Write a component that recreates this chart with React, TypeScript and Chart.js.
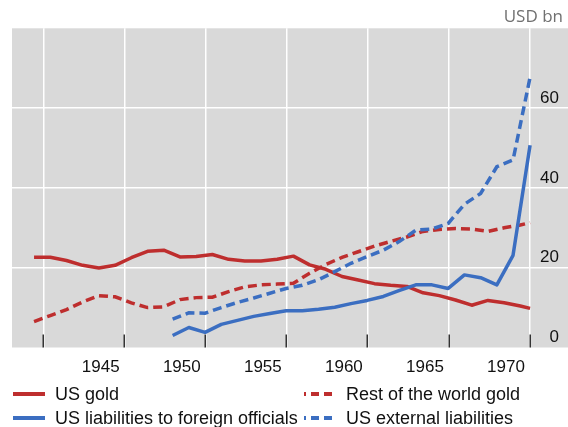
import React, { useEffect, useRef } from 'react';
import { Chart, registerables } from 'chart.js';

Chart.register(...registerables);

// Gold stocks: annual points, last point = mid-1971
const goldYears = [
  1941, 1942, 1943, 1944, 1945, 1946, 1947, 1948, 1949, 1950,
  1951, 1952, 1953, 1954, 1955, 1956, 1957, 1958, 1959, 1960,
  1961, 1962, 1963, 1964, 1965, 1966, 1967, 1968, 1969, 1970,
  1971, 1971.6,
];
const usGold = [
  22.6, 22.6, 21.8, 20.6, 19.9, 20.6, 22.5, 24.1, 24.4, 22.7,
  22.8, 23.3, 22.1, 21.7, 21.7, 22.1, 22.9, 20.7, 19.6, 17.8,
  16.9, 16.0, 15.6, 15.3, 13.7, 13.0, 11.9, 10.6, 11.8, 11.2,
  10.4, 9.8,
];
const restOfWorldGold = [
  6.5, 8.0, 9.5, 11.4, 13.0, 12.7, 11.2, 10.0, 10.2, 12.0,
  12.5, 12.6, 14.0, 15.2, 15.7, 15.9, 16.1, 18.6, 20.8, 22.6,
  24.0, 25.4, 26.6, 27.7, 29.1, 29.6, 29.8, 29.7, 29.1, 30.0,
  30.7, 31.3,
];

// Liabilities: year-end points, last point = mid-1971
const liabYears = [
  1949.55, 1950.55, 1951.55, 1952.55, 1953.55, 1954.55, 1955.55, 1956.55,
  1957.55, 1958.55, 1959.55, 1960.55, 1961.55, 1962.55, 1963.55, 1964.55,
  1965.55, 1966.55, 1967.55, 1968.55, 1969.55, 1970.55, 1971.6,
];
const usOfficialLiab = [
  3.0, 5.0, 3.8, 5.8, 6.8, 7.8, 8.5, 9.2,
  9.2, 9.6, 10.1, 11.0, 11.8, 12.8, 14.3, 15.7,
  15.7, 14.8, 18.2, 17.5, 15.7, 23.1, 50.7,
];
const usExternalLiab = [
  7.1, 8.7, 8.6, 10.0, 11.3, 12.4, 13.6, 14.8,
  15.6, 17.0, 19.0, 21.1, 22.8, 24.4, 26.6, 29.4,
  29.7, 31.1, 35.9, 38.6, 45.3, 47.0, 67.7,
];

// Axis
const xGridYears = [1941.57, 1946.57, 1951.57, 1956.57, 1961.57, 1966.57, 1971.57];
const xTickLabels = ['', '1945', '1950', '1955', '1960', '1965', '1970'];
const xMin = 1939.64;
const xMax = 1973.94;
const yMin = 0;
const yMax = 80;
const yStep = 20;
const unitLabel = 'USD bn';

const RED = '#BE2E2E';
const BLUE = '#3B6EC1';
const FONT = "'Liberation Sans', Arial, Helvetica, sans-serif";

const legendItems = [
  { label: 'US gold', color: RED, dashed: false, col: 0, row: 0 },
  { label: 'Rest of the world gold', color: RED, dashed: true, col: 1, row: 0 },
  { label: 'US liabilities to foreign officials', color: BLUE, dashed: false, col: 0, row: 1 },
  { label: 'US external liabilities', color: BLUE, dashed: true, col: 1, row: 1 },
];

const toPoints = (xs: number[], ys: number[]) => xs.map((x, i) => ({ x, y: ys[i] }));

const panelPlugin = {
  id: 'panel',
  beforeDraw(chart: any) {
    const { ctx, chartArea } = chart;
    ctx.save();
    ctx.fillStyle = '#D9D9D9';
    ctx.fillRect(chartArea.left, chartArea.top, chartArea.right - chartArea.left, chartArea.bottom - chartArea.top);
    ctx.restore();
  },
  beforeDatasetsDraw(chart: any) {
    const { ctx, chartArea, scales } = chart;
    const xs = scales.x;
    ctx.save();
    ctx.strokeStyle = '#333333';
    ctx.lineWidth = 1.5;
    xs.ticks.forEach((t: any) => {
      const px = Math.round(xs.getPixelForValue(t.value)) + 0.25;
      ctx.beginPath();
      ctx.moveTo(px, chartArea.bottom - 13);
      ctx.lineTo(px, chartArea.bottom);
      ctx.stroke();
    });
    ctx.restore();
  },
};

function LegendSwatch({ color, dashed }: { color: string; dashed: boolean }) {
  return (
    <svg width={32} height={8} style={{ display: 'block', flex: '0 0 auto' }}>
      <line
        x1={0}
        y1={4}
        x2={32}
        y2={4}
        stroke={color}
        strokeWidth={4}
        strokeDasharray={dashed ? '8 5' : undefined}
        strokeDashoffset={dashed ? 6 : undefined}
      />
    </svg>
  );
}

export default function App() {
  const canvasRef = useRef<HTMLCanvasElement | null>(null);

  useEffect(() => {
    const canvas = canvasRef.current;
    if (!canvas) return;
    const chart = new Chart(canvas, {
      type: 'line',
      data: {
        datasets: [
          {
            label: 'US liabilities to foreign officials',
            data: toPoints(liabYears, usOfficialLiab),
            borderColor: BLUE,
            borderWidth: 3.5,
            pointRadius: 0,
            tension: 0,
            borderJoinStyle: 'round',
          },
          {
            label: 'US external liabilities',
            data: toPoints(liabYears, usExternalLiab),
            borderColor: BLUE,
            borderWidth: 3.5,
            borderDash: [9, 5],
            pointRadius: 0,
            tension: 0,
          },
          {
            label: 'US gold',
            data: toPoints(goldYears, usGold),
            borderColor: RED,
            borderWidth: 3.5,
            pointRadius: 0,
            tension: 0,
            borderJoinStyle: 'round',
          },
          {
            label: 'Rest of the world gold',
            data: toPoints(goldYears, restOfWorldGold),
            borderColor: RED,
            borderWidth: 3.5,
            borderDash: [9, 5],
            pointRadius: 0,
            tension: 0,
          },
        ],
      },
      options: {
        animation: false,
        responsive: false,
        devicePixelRatio: 1,
        layout: { padding: { left: 12, top: 28.3, right: 0, bottom: 0 } },
        plugins: {
          legend: { display: false },
          tooltip: { enabled: false },
          title: { display: false },
        },
        scales: {
          x: {
            type: 'linear',
            min: xMin,
            max: xMax,
            afterBuildTicks: (scale: any) => {
              scale.ticks = xGridYears.map((v) => ({ value: v }));
            },
            afterFit: (scale: any) => {
              scale.height = 38.5;
            },
            grid: { color: '#FFFFFF', lineWidth: 1.5, drawTicks: false },
            border: { display: false },
            ticks: {
              autoSkip: false,
              maxRotation: 0,
              padding: 9.5,
              labelOffset: -23.6,
              color: '#111111',
              font: { family: FONT, size: 17 },
              callback: (_v: any, i: number) => xTickLabels[i],
            },
          },
          y: {
            type: 'linear',
            position: 'right',
            min: yMin,
            max: yMax,
            afterFit: (scale: any) => {
              scale.width = 0;
            },
            grid: {
              drawTicks: false,
              lineWidth: 1.5,
              color: (c: any) =>
                c.tick && (c.tick.value === yMin || c.tick.value === yMax) ? 'rgba(0,0,0,0)' : '#FFFFFF',
            },
            border: { display: false },
            ticks: {
              stepSize: yStep,
              mirror: true,
              crossAlign: 'near',
              padding: -9,
              labelOffset: -10,
              color: '#111111',
              font: { family: FONT, size: 17 },
              callback: (v: any) => (v === yMax ? '' : String(v)),
            },
          },
        },
      },
      plugins: [panelPlugin],
    } as any);
    return () => chart.destroy();
  }, []);

  return (
    <div style={{ position: 'absolute', left: 0, top: 0, width: 568, height: 427, background: '#fff' }}>
      <canvas ref={canvasRef} width={568} height={386} style={{ position: 'absolute', left: 0, top: 0 }} />
      <span
        style={{
          position: 'absolute',
          right: 5,
          top: 6,
          fontFamily: "'Open Sans', sans-serif",
          fontSize: 17,
          lineHeight: '20px',
          color: '#707070',
        }}
      >
        {unitLabel}
      </span>
      {legendItems.map((it) => (
        <div
          key={it.label}
          style={{
            position: 'absolute',
            left: it.col === 0 ? 13 : 304,
            top: it.row === 0 ? 383 : 407,
            height: 22,
            display: 'flex',
            alignItems: 'center',
            fontFamily: FONT,
            fontSize: 18,
            lineHeight: '22px',
            color: '#111111',
            whiteSpace: 'nowrap',
          }}
        >
          <LegendSwatch color={it.color} dashed={it.dashed} />
          <span style={{ marginLeft: 10 }}>{it.label}</span>
        </div>
      ))}
    </div>
  );
}
